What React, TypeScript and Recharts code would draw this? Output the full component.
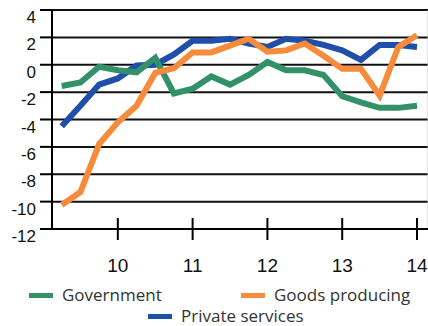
import { LineChart, Line, XAxis, YAxis, CartesianGrid, ReferenceLine } from 'recharts'

const quarters = [9.25, 9.5, 9.75, 10, 10.25, 10.5, 10.75, 11, 11.25, 11.5, 11.75, 12, 12.25, 12.5, 12.75, 13, 13.25, 13.5, 13.75, 14]
const government = [-1.55, -1.3, -0.15, -0.4, -0.55, 0.5, -2.1, -1.75, -0.85, -1.45, -0.75, 0.2, -0.4, -0.4, -0.75, -2.3, -2.75, -3.15, -3.15, -3.0]
const goodsProducing = [-10.25, -9.3, -5.8, -4.2, -3.0, -0.6, -0.25, 0.9, 0.9, 1.4, 1.9, 0.95, 1.05, 1.55, 0.65, -0.3, -0.3, -2.25, 1.3, 2.15]
const privateServices = [-4.5, -3.0, -1.45, -1.0, -0.05, 0.0, 0.75, 1.75, 1.75, 1.9, 1.55, 1.3, 1.9, 1.75, 1.45, 1.05, 0.35, 1.45, 1.45, 1.3]

const yTicks = [-12, -10, -8, -6, -4, -2, 0, 2, 4]
const xTicks = [10, 11, 12, 13, 14]

const GREEN = '#33916a'
const ORANGE = '#f68b3c'
const BLUE = '#1f4faa'

const data = quarters.map((q, i) => ({
  q,
  government: government[i],
  goods: goodsProducing[i],
  privateServices: privateServices[i],
}))

const YTick = ({ x, y, payload }: any) => (
  <g>
    <line x1={x - 12} x2={x} y1={y} y2={y} stroke="#000" strokeWidth={2} />
    <text x={x - 16} y={y + 7} dy="0.36em" textAnchor="end" fontSize={17} fontFamily="'Liberation Sans', Arial, sans-serif" fill="#111">
      {payload.value}
    </text>
  </g>
)

const XTick = ({ x, y, payload }: any) => (
  <g>
    <line x1={x} x2={x} y1={y - 11} y2={y + 11} stroke="#000" strokeWidth={2} />
    <text x={x} y={y + 36} dy="0.36em" textAnchor="middle" fontSize={19} fontFamily="'Liberation Sans', Arial, sans-serif" fill="#111">
      {payload.value}
    </text>
  </g>
)

const legendItems = [
  { label: 'Government', color: GREEN, left: 29, top: 295 },
  { label: 'Goods producing', color: ORANGE, left: 241, top: 295 },
  { label: 'Private services', color: BLUE, left: 148, top: 316 },
]

export default function App() {
  return (
    <div style={{ position: 'absolute', left: 0, top: 0, width: 428, height: 326, background: '#fff', overflow: 'hidden' }}>
      <LineChart width={428} height={326} data={data} margin={{ top: 10, right: 0, bottom: 0, left: 0 }}>
        <CartesianGrid vertical={false} stroke="#111" strokeWidth={2} />
        <XAxis
          dataKey="q"
          type="number"
          domain={[9.12, 14.147]}
          ticks={xTicks}
          height={97}
          tickSize={0}
          tickMargin={0}
          tickLine={false}
          axisLine={{ stroke: '#000', strokeWidth: 2 }}
          tick={<XTick />}
          allowDataOverflow
        />
        <YAxis
          domain={[-12, 4]}
          ticks={yTicks}
          width={52}
          tickSize={0}
          tickMargin={0}
          tickLine={false}
          axisLine={{ stroke: '#000', strokeWidth: 2 }}
          tick={<YTick />}
          interval={0}
        />
        <ReferenceLine x={14.147} stroke="#c8c8c8" strokeWidth={1} />
        <Line dataKey="privateServices" stroke={BLUE} strokeWidth={6} dot={false} isAnimationActive={false} />
        <Line dataKey="government" stroke={GREEN} strokeWidth={6} dot={false} isAnimationActive={false} />
        <Line dataKey="goods" stroke={ORANGE} strokeWidth={6} dot={false} isAnimationActive={false} />
      </LineChart>
      {legendItems.map((it) => (
        <div
          key={it.label}
          style={{
            position: 'absolute',
            left: it.left,
            top: it.top - 10,
            height: 20,
            lineHeight: '20px',
            display: 'flex',
            alignItems: 'center',
            fontFamily: "'Open Sans', sans-serif",
            fontSize: 17,
            color: '#333',
            whiteSpace: 'nowrap',
          }}
        >
          <span style={{ display: 'inline-block', width: 24, height: 5, background: it.color, marginRight: 9 }} />
          {it.label}
        </div>
      ))}
    </div>
  )
}
